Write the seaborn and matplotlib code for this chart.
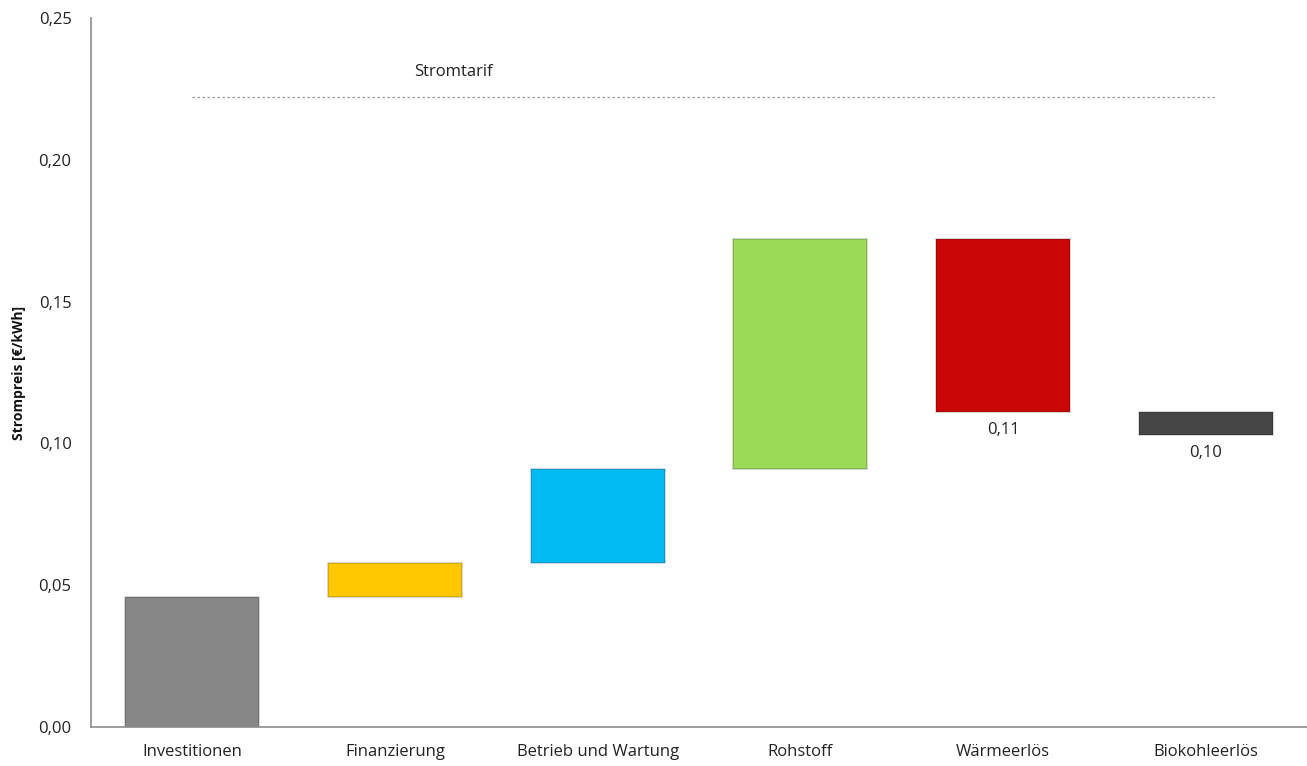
import matplotlib
matplotlib.use("Agg")
import matplotlib.pyplot as plt
import seaborn as sns
import pandas as pd
from matplotlib.ticker import FuncFormatter

categories = ["Investitionen", "Finanzierung", "Betrieb und Wartung", "Rohstoff", "Wärmeerlös", "Biokohleerlös"]
starts = [0.000, 0.046, 0.058, 0.091, 0.172, 0.111]
ends = [0.046, 0.058, 0.091, 0.172, 0.111, 0.103]
colors = ["#878787", "#FFC800", "#00BAF2", "#9BDB58", "#CA0606", "#464646"]
end_labels = ["", "", "", "", "0,11", "0,10"]
tariff = 0.222
tariff_label = "Stromtarif"

sns.set_theme(style="white")
plt.rcParams["font.family"] = ["Open Sans", "DejaVu Sans"]

df = pd.DataFrame({
    "cat": categories,
    "bottom": [min(s, e) for s, e in zip(starts, ends)],
    "height": [abs(e - s) for s, e in zip(starts, ends)],
})

fig = plt.figure(figsize=(13.07, 7.66), dpi=100)
ax = fig.add_axes([0.0696, 0.0509, 0.9304, 0.9256])

sns.barplot(data=df, x="cat", y="height", bottom=df["bottom"].values, color="#888888",
            saturation=1, width=0.66, ax=ax, edgecolor="#00000030", linewidth=1.2)
for patch, c in zip(ax.patches, colors):
    patch.set_facecolor(c)

for i, (e, s, lab) in enumerate(zip(ends, starts, end_labels)):
    if lab:
        ax.text(i, min(s, e) - 0.0035, lab, ha="center", va="top", fontsize=12, color="#222222")

ax.hlines(tariff, 0, 5.05, colors="#9a9a9a", linestyles=(0, (2, 2)), linewidth=0.9)
ax.text(1.29, tariff + 0.009, tariff_label, ha="center", va="center", fontsize=12, color="#222222")

ax.set_xlim(-0.5, 5.5)
ax.set_ylim(0, 0.25)
ax.set_yticks([0, 0.05, 0.10, 0.15, 0.20, 0.25])
ax.yaxis.set_major_formatter(FuncFormatter(lambda v, p: f"{v:.2f}".replace(".", ",")))
ax.set_xlabel("")
ax.set_ylabel("Strompreis [€/kWh]", fontsize=10, fontweight="bold", color="#111111", labelpad=9)
ax.tick_params(axis="both", length=0, labelsize=12, colors="#222222", pad=12)
ax.tick_params(axis="y", pad=14)

for sp in ["top", "right"]:
    ax.spines[sp].set_visible(False)
for sp in ["left", "bottom"]:
    ax.spines[sp].set_color("#8c8c8c")
    ax.spines[sp].set_linewidth(1.2)

fig.savefig("out.png", dpi=100)
